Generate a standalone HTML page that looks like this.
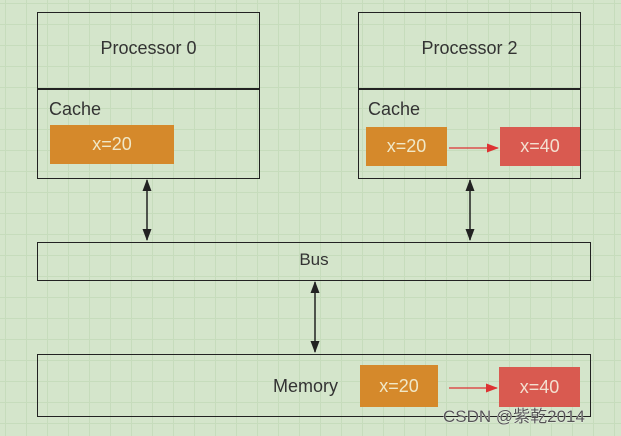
<!DOCTYPE html>
<html><head><style>
body{margin:0;}
.c{position:relative;width:621px;height:436px;overflow:hidden;background-color:#d4e5cb;
background-image:linear-gradient(#c6dcbc 1px,transparent 1px),linear-gradient(90deg,#c6dcbc 1px,transparent 1px);
background-size:21px 21px;background-position:5px 3px;font-family:"Liberation Sans","DejaVu Sans",sans-serif;color:#333;}
.b{position:absolute;border:1.5px solid #222;box-sizing:border-box;}
.t{position:absolute;font-size:18px;}
.o{position:absolute;background:#d5892b;color:#f0e8c8;font-size:18px;text-align:center;box-sizing:border-box;}
.r{position:absolute;background:#d95a50;color:#f3e0d0;font-size:18px;text-align:center;}
</style></head><body><div class="c">
<div class="b" style="left:37px;top:12px;width:223px;height:167px"></div>
<div style="position:absolute;left:37px;top:88px;width:223px;height:1.5px;background:#222"></div>
<div class="t" style="left:37px;top:38px;width:223px;text-align:center">Processor 0</div>
<div class="t" style="left:49px;top:99px">Cache</div>
<div class="o" style="left:50px;top:125px;width:124px;height:39px;line-height:39px">x=20</div>

<div class="b" style="left:358px;top:12px;width:223px;height:167px"></div>
<div style="position:absolute;left:358px;top:88px;width:223px;height:1.5px;background:#222"></div>
<div class="t" style="left:358px;top:38px;width:223px;text-align:center">Processor 2</div>
<div class="t" style="left:368px;top:99px">Cache</div>
<div class="o" style="left:366px;top:127px;width:81px;height:39px;line-height:39px">x=20</div>
<div class="r" style="left:500px;top:127px;width:80px;height:39px;line-height:39px">x=40</div>

<div class="b" style="left:37px;top:242px;width:554px;height:39px"></div>
<div class="t" style="left:37px;top:250px;width:554px;text-align:center;font-size:17px">Bus</div>

<div class="b" style="left:37px;top:354px;width:554px;height:63px"></div>
<div class="t" style="left:273px;top:376px">Memory</div>
<div class="o" style="left:360px;top:365px;width:78px;height:42px;line-height:42px">x=20</div>
<div class="r" style="left:499px;top:367px;width:81px;height:40px;line-height:40px">x=40</div>

<svg width="621" height="436" style="position:absolute;left:0;top:0">
<defs>
<marker id="a" markerWidth="12" markerHeight="10" refX="11" refY="5" orient="auto-start-reverse" markerUnits="userSpaceOnUse"><path d="M0,0.5 L12,5 L0,9.5z" fill="#222"/></marker>
<marker id="ar" markerWidth="12" markerHeight="9" refX="11" refY="4.5" orient="auto" markerUnits="userSpaceOnUse"><path d="M0,0 L12,4.5 L0,9z" fill="#d33"/></marker>
</defs>
<g stroke="#222" stroke-width="1.5">
<line x1="147" y1="180" x2="147" y2="240" marker-start="url(#a)" marker-end="url(#a)"/>
<line x1="470" y1="180" x2="470" y2="240" marker-start="url(#a)" marker-end="url(#a)"/>
<line x1="315" y1="282" x2="315" y2="352" marker-start="url(#a)" marker-end="url(#a)"/>
</g>
<g stroke="#d33" stroke-width="1.3">
<line x1="449" y1="148" x2="498" y2="148" marker-end="url(#ar)"/>
<line x1="449" y1="388" x2="497" y2="388" marker-end="url(#ar)"/>
</g>
<text x="443" y="422" font-size="17" fill="#555" stroke="#fff" stroke-width="0.5" paint-order="stroke" font-family="Liberation Sans, Noto Sans CJK SC, sans-serif">CSDN @紫乾2014</text>
</svg>
</div></body></html>
